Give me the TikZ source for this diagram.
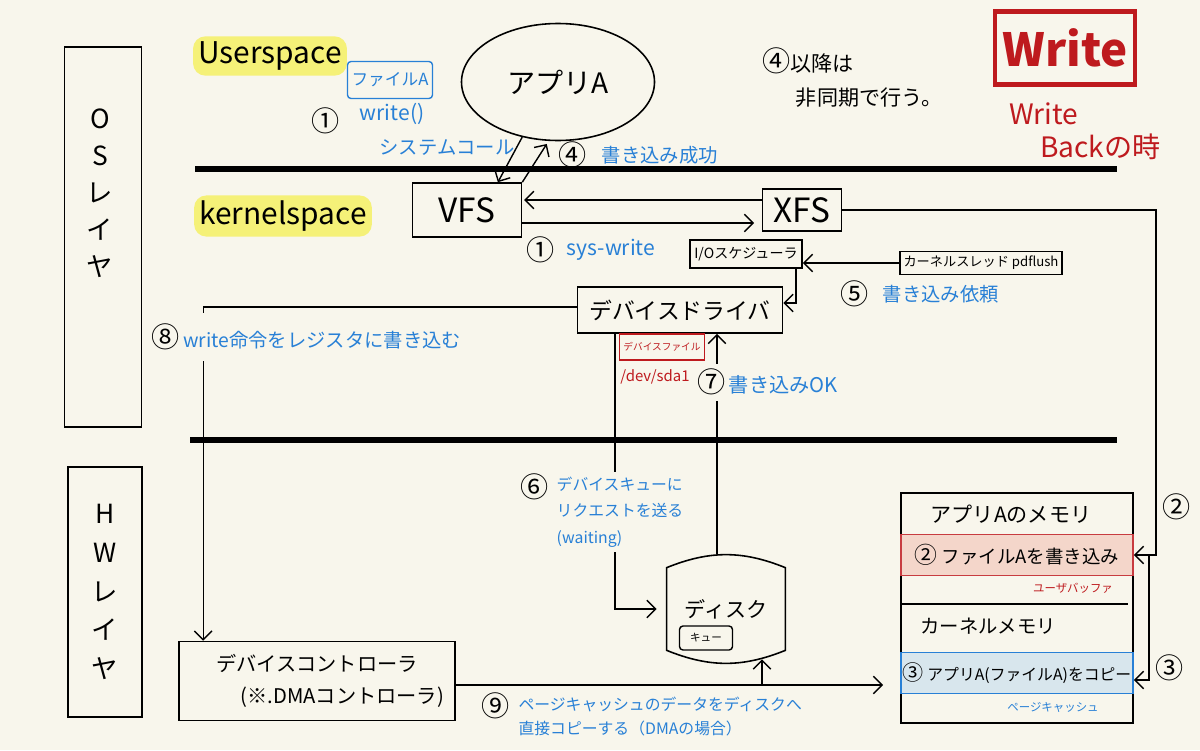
\documentclass[tikz,border=0pt]{standalone}
\usepackage{fontspec}
\setmainfont{Noto Sans CJK JP}
\usetikzlibrary{arrows.meta, positioning, shapes.geometric}
\definecolor{paper}{RGB}{248,246,236}
\definecolor{penblue}{RGB}{40,128,214}
\definecolor{penred}{RGB}{190,26,30}
\definecolor{marker}{RGB}{245,241,120}
\definecolor{bufred}{RGB}{244,214,202}
\definecolor{cacheblue}{RGB}{216,230,237}
\newcommand{\stepno}[1]{{\color{black}\fontsize{16}{16}\selectfont #1}}

\begin{document}
\begin{tikzpicture}[
  x=0.2mm, y=-0.2mm,
  box/.style={rectangle, draw, line width=0.9pt, inner sep=2pt,
              font=\fontsize{13}{15}\selectfont},
  layerbox/.style={rectangle, draw, line width=0.9pt, align=center,
              font=\fontsize{15}{22}\selectfont},
  spacetag/.style={fill=marker, rounded corners=7pt, inner sep=3pt,
              font=\fontsize{17}{19}\selectfont},
  smallbox/.style={rectangle, draw, line width=0.8pt, inner sep=1pt},
  note/.style={text=penblue, align=left, font=\fontsize{11}{14}\selectfont},
  redtext/.style={text=penred, align=left},
  num/.style={font=\fontsize{16}{16}\selectfont},
  divider/.style={line width=3pt},
  wire/.style={line width=0.8pt},
  arrow/.style={-{Straight Barb[length=5pt,width=10pt]}, line width=0.8pt},
  gap/.style={fill=paper, inner sep=3pt},
]
  \useasboundingbox (0,0) rectangle (1200,750);
  \fill[paper] (0,0) rectangle (1200,750);

  % Left: layers
  \node[layerbox, minimum width=15.4mm, minimum height=76mm] (oslayer) at (103,237) {};
  \node[align=center, font=\fontsize{15}{21}\selectfont] (ostext) at (100,193) {O\\S\\レ\\イ\\ヤ};
  \node[layerbox, minimum width=14.8mm, minimum height=50mm] (hwlayer) at (105,592) {H\\W\\レ\\イ\\ヤ};

  % Space tags and dividers
  \node[spacetag] (user) at (270,56) {Userspace};
  \node[spacetag] (kernel) at (283,216) {kernelspace};
  \draw[divider] (195,169) -- (1117,169);
  \draw[divider] (190,440) -- (1117,440);

  % User space
  \node[ellipse, draw, line width=0.9pt, minimum width=38.6mm, minimum height=23.4mm,
        font=\fontsize{16}{18}\selectfont] (app) at (558,82) {アプリA};
  \node[smallbox, draw=penblue, text=penblue, rounded corners=2pt, minimum width=17mm,
        minimum height=7.4mm, font=\fontsize{9.5}{11}\selectfont] (filea) at (390,80) {ファイルA};
  \node[note, font=\fontsize{12}{14}\selectfont] (writecall) at (392,114) {write()};
  \node[num] (n1a) at (326,121) {①};
  \node[note] (syscall) at (447,148) {システムコール};
  \node[num] (n4a) at (573,155) {④};
  \node[note, right=0.5mm of n4a] (done) {書き込み成功};

  % Kernel space
  \node[box, font=\fontsize{19}{21}\selectfont, minimum width=21.8mm, minimum height=10.8mm] (vfs) at (467,210) {VFS};
  \node[box, font=\fontsize{19}{21}\selectfont, minimum width=15.8mm, minimum height=8.4mm] (xfs) at (802,210) {XFS};
  \node[note, font=\fontsize{12}{14}\selectfont] (syswrite) at (611,250) {sys-write};
  \node[num, left=0mm of syswrite] (n1b) {①};
  \node[box, font=\fontsize{8}{10}\selectfont, minimum width=22.4mm, minimum height=5.6mm] (iosched) at (746,254) {I/Oスケジューラ};
  \node[box, font=\fontsize{7.5}{9}\selectfont, minimum width=31.2mm, minimum height=4.6mm] (pdflush) at (981,263) {カーネルスレッド pdflush};
  \node[num] (n5) at (855,294) {⑤};
  \node[note, right=0.3mm of n5] (askwrite) {書き込み依頼};
  \node[box, minimum width=41mm, minimum height=9.2mm] (driver) at (680,310) {デバイスドライバ};
  \node[smallbox, draw=penred, text=penred, font=\fontsize{5.5}{6.5}\selectfont,
        minimum width=17mm, minimum height=5.2mm] (devfile) at (662,347) {デバイスファイル};
  \node[redtext, font=\fontsize{8.5}{10}\selectfont] (sda) at (655,377) {/dev/sda1};

  % Hardware
  \node[box, align=center, font=\fontsize{11.5}{18}\selectfont, minimum width=55.2mm,
        minimum height=15.8mm] (ctrl) at (317,681) {デバイスコントローラ\\\hspace*{2.5em}(※.DMAコントローラ)};
  \node[minimum width=23.6mm, minimum height=16.4mm, font=\fontsize{12}{14}\selectfont] (disk) at (726,609) {ディスク};
  \draw[line width=0.9pt] (disk.north west) to[bend left=22] (disk.north east)
    -- (disk.south east) to[bend left=22] (disk.south west) -- cycle;
  \node[smallbox, rounded corners=2pt, font=\fontsize{6}{7}\selectfont, minimum width=10.6mm,
        minimum height=4.8mm] (queue) at (706,638) {キュー};

  % Memory
  \node[draw, line width=0.9pt, minimum width=46.4mm, minimum height=46mm] (memory) at (1017,608) {};
  \node[font=\fontsize{12}{14}\selectfont] (appmem) at (1011,514) {アプリAのメモリ};
  \node[smallbox, draw=penred!85, fill=bufred, line width=0.9pt, font=\fontsize{10.5}{12}\selectfont,
        minimum width=46.4mm, minimum height=8.2mm] (userbuf) at (1017,555)
        {{\fontsize{13}{13}\selectfont ②} ファイルAを書き込み};
  \node[redtext, font=\fontsize{6.5}{8}\selectfont] (userbuflbl) at (1073,588) {ユーザバッファ};
  \draw[wire] (memory.west |- 0,604) -- (1128,604);
  \node[font=\fontsize{11}{13}\selectfont] (kernmem) at (988,626) {カーネルメモリ};
  \node[smallbox, draw=penblue, fill=cacheblue, line width=0.9pt, font=\fontsize{9}{11}\selectfont,
        minimum width=46.4mm, minimum height=8.2mm] (pagecache) at (1017,673)
        {{\fontsize{12}{12}\selectfont ③} アプリA(ファイルA)をコピー};
  \node[note, font=\fontsize{6.5}{8}\selectfont] (pagecachelbl) at (1053,707) {ページキャッシュ};

  % Notes, top right
  \node[align=left, anchor=north west, font=\fontsize{12}{19}\selectfont] (async) at (756,42)
    {\stepno{④}以降は\\\hspace*{1.6em}非同期で行う。};
  \node[smallbox, draw=penred, text=penred, line width=2.4pt, font=\fontsize{26}{28}\selectfont\bfseries,
        minimum width=28mm, minimum height=14.6mm] (wtitle) at (1065,48) {Write};
  \node[redtext, anchor=north west, font=\fontsize{16}{19}\selectfont] (wback) at (1003,96) {Write\\\hspace*{1.1em}Backの時};

  % Arrows: app <-> VFS
  \draw[arrow] (app.237) -- (vfs.42);
  \draw[arrow, shorten >=2pt] (vfs.north east) -- (app.261);

  % VFS <-> XFS
  \draw[arrow, shorten >=1pt] ([yshift=2mm]xfs.west) -- ([yshift=2mm]vfs.east);
  \draw[arrow, shorten >=1.5mm] ([yshift=-2.6mm]vfs.east) -- ([yshift=-2.6mm]xfs.west);

  % pdflush -> I/O scheduler -> driver
  \draw[arrow] (pdflush.west) -- (pdflush.west -| iosched.east);
  \draw[arrow] ([xshift=-1.4mm]iosched.south east) |- ([yshift=1.4mm]driver.east);

  % driver -> controller (8)
  \draw[arrow] ([yshift=0.6mm]driver.west) -| node[gap, note, inner ysep=6pt, pos=0.545, anchor=west, xshift=-11.5mm]
    {\stepno{⑧}\,write命令をレジスタに書き込む} ([xshift=5mm]ctrl.north west);

  % driver -> disk (6)
  \draw[arrow, shorten >=2mm] ([xshift=-13mm]driver.south) |- node[gap, note, pos=0.324, xshift=1mm,
    font=\fontsize{9}{15}\selectfont, label={[anchor=north east, inner sep=1pt]north west:\stepno{⑥}}]
    {デバイスキューに\\リクエストを送る\\(waiting)} (disk.west);

  % disk -> driver (7)
  \coordinate (okfoot) at ([xshift=-1.8mm,yshift=2.8mm]disk.north);
  \draw[arrow] (okfoot) -- node[gap, note, inner xsep=1pt, pos=0.78, anchor=west, xshift=-4.4mm,
    font=\fontsize{11.5}{13}\selectfont] {\stepno{⑦}\,書き込みOK} (okfoot |- driver.south);

  % controller -> page cache / disk (9)
  \coordinate (dmaline) at ([yshift=-0.8mm]ctrl.east);
  \coordinate (dmatop) at ([xshift=7.2mm,yshift=-1.8mm]disk.south);
  \draw[arrow, shorten >=3.4mm] (dmaline) -- node[note, below=1mm, pos=0.46, font=\fontsize{9}{14}\selectfont,
    label={[anchor=north east, inner sep=1pt]north west:\stepno{⑨}}]
    {ページキャッシュのデータをディスクへ\\直接コピーする（DMAの場合）} (dmaline -| pagecache.west);
  \draw[arrow] (dmaline -| dmatop) -- (dmatop);

  % XFS -> user buffer (2) -> page cache (3)
  \draw[arrow] (xfs.east) -| node[num, pos=0.93, right] {②} ([xshift=4.4mm]userbuf.east) -- (userbuf.east);
  \draw[arrow] ([xshift=3mm]userbuf.east) |- node[num, pos=0.45, right] {③} ([yshift=-1.4mm]pagecache.east);
\end{tikzpicture}
\end{document}
